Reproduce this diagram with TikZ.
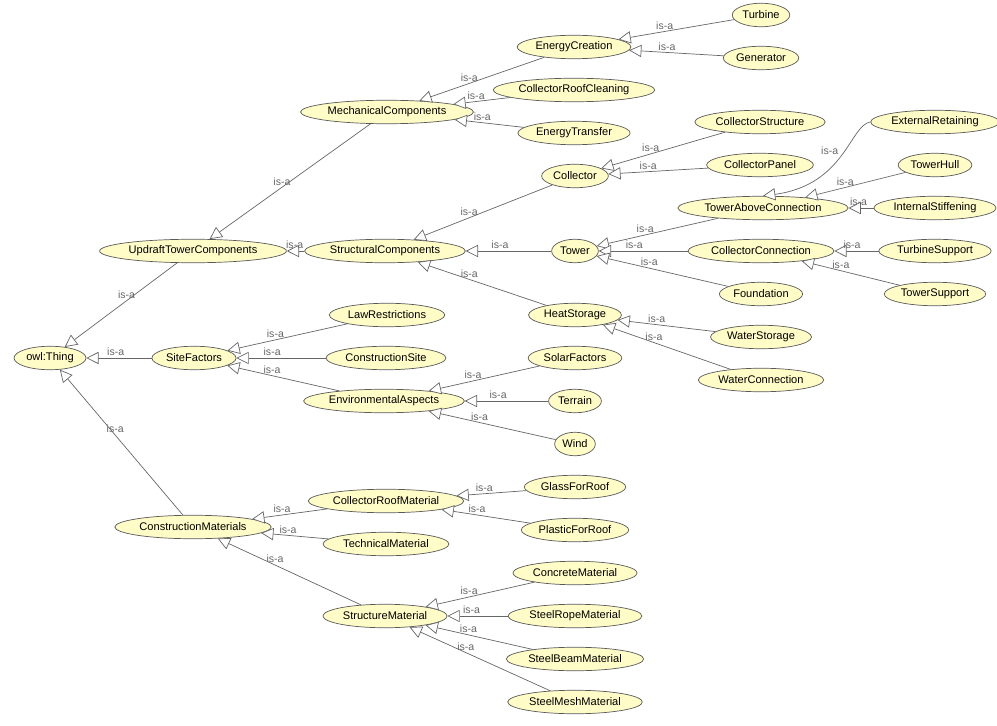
\documentclass[tikz,border=0pt]{standalone}
\usepackage{fontspec}
\setmainfont{Liberation Sans}
\usetikzlibrary{shapes.geometric,arrows.meta}

\begin{document}
\begin{tikzpicture}[x=0.02cm,y=-0.02cm]
	\tikzset{cls/.style={ellipse,draw=black!65,fill=yellow!22,inner xsep=1pt,inner ysep=0pt,minimum height=0.47cm,font=\fontsize{6.3}{7}\selectfont},
		isa/.style={draw=black!60,-{Triangle[open,length=7pt,width=7pt,fill=white]}},
		lbl/.style={above,inner sep=1pt,text=black!60,font=\fontsize{6}{7}\selectfont}}
	\useasboundingbox (0,0) rectangle (997,726);
	% first level
	\node[cls] (thing) at (50,358) {owl:Thing};
	\node[cls] (updraft) at (193,251) {UpdraftTowerComponents};
	\node[cls] (site) at (194,358) {SiteFactors};
	\node[cls] (constr) at (193,527) {ConstructionMaterials};
	% second level
	\node[cls] (mech) at (387,112) {MechanicalComponents};
	\node[cls] (struct) at (385,251) {StructuralComponents};
	\node[cls] (law) at (387,315) {LawRestrictions};
	\node[cls] (csite) at (386,358) {ConstructionSite};
	\node[cls] (env) at (384,401) {EnvironmentalAspects};
	\node[cls] (roofmat) at (386,501) {CollectorRoofMaterial};
	\node[cls] (techmat) at (386,544) {TechnicalMaterial};
	\node[cls] (structmat) at (385,616) {StructureMaterial};
	% third level
	\node[cls] (energy) at (574,47) {EnergyCreation};
	\node[cls] (cleaning) at (574,90) {CollectorRoofCleaning};
	\node[cls] (transfer) at (574,133) {EnergyTransfer};
	\node[cls] (collector) at (575,176) {Collector};
	\node[cls] (tower) at (575,251) {Tower};
	\node[cls] (heat) at (575,315) {HeatStorage};
	\node[cls] (solar) at (575,358) {SolarFactors};
	\node[cls] (terrain) at (575,401) {Terrain};
	\node[cls] (wind) at (575,444) {Wind};
	\node[cls] (glass) at (575,487) {GlassForRoof};
	\node[cls] (plastic) at (575,530) {PlasticForRoof};
	\node[cls] (concrete) at (575,573) {ConcreteMaterial};
	\node[cls] (rope) at (575,616) {SteelRopeMaterial};
	\node[cls] (beam) at (575,659) {SteelBeamMaterial};
	\node[cls] (mesh) at (575,702) {SteelMeshMaterial};
	% fourth level
	\node[cls] (turbine) at (761,15) {Turbine};
	\node[cls] (generator) at (761,58) {Generator};
	\node[cls] (cstructure) at (760,122) {CollectorStructure};
	\node[cls] (cpanel) at (760,165) {CollectorPanel};
	\node[cls] (above) at (763,208) {TowerAboveConnection};
	\node[cls] (cconn) at (761,251) {CollectorConnection};
	\node[cls] (found) at (761,294) {Foundation};
	\node[cls] (wstorage) at (761,337) {WaterStorage};
	\node[cls] (wconn) at (761,380) {WaterConnection};
	% fifth level
	\node[cls] (external) at (935,122) {ExternalRetaining};
	\node[cls] (hull) at (935,165) {TowerHull};
	\node[cls] (internal) at (935,208) {InternalStiffening};
	\node[cls] (tsupport) at (935,251) {TurbineSupport};
	\node[cls] (tosupport) at (935,294) {TowerSupport};
	% is-a edges
	\foreach \c/\p/\q in {updraft/thing/0.45,site/thing/0.55,constr/thing/0.55,
		mech/updraft/0.55,struct/updraft/0.55,law/site/0.6,csite/site/0.6,env/site/0.6,
		roofmat/constr/0.6,techmat/constr/0.6,structmat/constr/0.6,
		energy/mech/0.6,cleaning/mech/0.6,transfer/mech/0.6,
		collector/struct/0.6,tower/struct/0.6,heat/struct/0.6,
		solar/env/0.6,terrain/env/0.6,wind/env/0.6,
		glass/roofmat/0.6,plastic/roofmat/0.6,
		concrete/structmat/0.6,rope/structmat/0.6,beam/structmat/0.6,mesh/structmat/0.6,
		turbine/energy/0.6,generator/energy/0.6,cstructure/collector/0.6,cpanel/collector/0.6,
		above/tower/0.6,cconn/tower/0.6,found/tower/0.6,wstorage/heat/0.6,wconn/heat/0.6,
		hull/above/0.6,internal/above/0.6,tsupport/cconn/0.6,tosupport/cconn/0.6}
		\draw[isa] (\c) -- node[lbl,pos=\q] {is-a} (\p);
	\draw[isa] (external.west) .. controls (850,125) and (845,185) .. node[lbl,pos=0.45,left=2pt] {is-a} (above.north);
\end{tikzpicture}
\end{document}
